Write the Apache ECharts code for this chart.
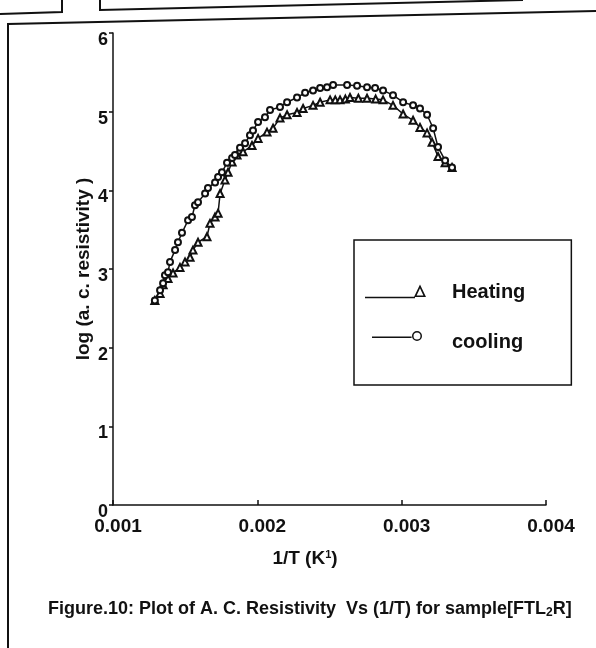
<!DOCTYPE html>
<html>
<head>
<meta charset="utf-8">
<script src="https://cdn.jsdelivr.net/npm/echarts@6/dist/echarts.min.js"></script>
<style>
  html, body { margin: 0; padding: 0; background: #fff; }
  #chart { width: 596px; height: 648px; }
</style>
</head>
<body>
<div id="chart"></div>
<script>
// values
const xTicks = [0.001, 0.002, 0.003, 0.004];
const yTicks = [0, 1, 2, 3, 4, 5, 6];

const heatX = [0.00129, 0.001326, 0.001347, 0.001381, 0.001416, 0.001464, 0.001499, 0.001534, 0.001554, 0.001589,
  0.001651, 0.001672, 0.001707, 0.001728, 0.001742, 0.001776, 0.001797, 0.001825, 0.001859, 0.001901,
  0.001963, 0.002005, 0.002067, 0.002109, 0.002157, 0.002206, 0.002275, 0.002317, 0.002386, 0.002435,
  0.002504, 0.00254, 0.002573, 0.00261, 0.002642, 0.0027, 0.00276, 0.00282, 0.002871, 0.00294,
  0.00301, 0.003079, 0.003127, 0.003176, 0.003211, 0.003252, 0.003301, 0.003349];
const heatY = [2.60, 2.69, 2.80, 2.88, 2.95, 3.02, 3.09, 3.15, 3.24, 3.34,
  3.41, 3.58, 3.66, 3.71, 3.96, 4.13, 4.23, 4.36, 4.45, 4.49,
  4.57, 4.66, 4.74, 4.79, 4.92, 4.96, 4.99, 5.04, 5.08, 5.12,
  5.15, 5.15, 5.15, 5.16, 5.18, 5.17, 5.17, 5.16, 5.15, 5.08,
  4.97, 4.89, 4.80, 4.73, 4.61, 4.43, 4.35, 4.29];

const coolX = [0.00129, 0.001326, 0.001347, 0.00136, 0.001381, 0.001395, 0.00143, 0.00145, 0.001478, 0.00152,
  0.001547, 0.001568, 0.001589, 0.001638, 0.001658, 0.001707, 0.001728, 0.001755, 0.00179, 0.001825,
  0.001845, 0.00188, 0.001915, 0.001949, 0.00197, 0.002005, 0.002053, 0.002088, 0.002157, 0.002206,
  0.002275, 0.002331, 0.002386, 0.002435, 0.002483, 0.002525, 0.002622, 0.002691, 0.00276, 0.002816,
  0.002871, 0.00294, 0.00301, 0.003079, 0.003127, 0.003176, 0.003218, 0.003252, 0.003301, 0.003349];
const coolY = [2.60, 2.73, 2.82, 2.92, 2.96, 3.09, 3.24, 3.34, 3.46, 3.62,
  3.66, 3.81, 3.85, 3.96, 4.03, 4.10, 4.17, 4.23, 4.35, 4.41,
  4.45, 4.54, 4.60, 4.70, 4.76, 4.87, 4.93, 5.02, 5.06, 5.12,
  5.18, 5.24, 5.27, 5.30, 5.31, 5.34, 5.34, 5.33, 5.31, 5.30,
  5.27, 5.21, 5.12, 5.08, 5.04, 4.96, 4.79, 4.55, 4.38, 4.29];

const ink = '#111';
const font = '"Liberation Sans", Arial, sans-serif';

const chart = echarts.init(document.getElementById('chart'), null, { renderer: 'canvas' });

// legend icons (62 x 26 box): line with a hollow marker at its right end.
// the tiny corner segments only pin the box so both icons scale the same way
const corners = ' M0,0 L0.01,0 Z M61.99,26 L62,26 Z';
const heatIcon = 'path://M0,17.8 L50,17.8 L50,19.3 L0,19.3 Z'
  + ' M49,18 L55,5.5 L61,18 Z M51.6,16.6 L58.4,16.6 L55,9.2 Z' + corners;
const coolIcon = 'path://M7,7.4 L46.6,7.4 L46.6,8.9 L7,8.9 Z'
  + ' M57,7 A5,5 0 1,1 47,7 A5,5 0 1,1 57,7 Z M55.5,7 A3.5,3.5 0 1,0 48.5,7 A3.5,3.5 0 1,0 55.5,7 Z' + corners;

const option = {
  animation: false,
  backgroundColor: '#fff',
  grid: { left: 113, right: 50, top: 33, bottom: 143 },
  xAxis: {
    type: 'value',
    min: xTicks[0],
    max: xTicks[xTicks.length - 1],
    interval: 0.001,
    name: '1/T (K{sup|1})',
    nameLocation: 'middle',
    nameGap: 44,
    nameTextStyle: {
      color: ink, fontFamily: font, fontWeight: 'bold', fontSize: 19, padding: [0, 49, 0, 0],
      rich: { sup: { fontSize: 11, fontWeight: 'bold', fontFamily: font, color: ink, verticalAlign: 'top', padding: [0, 0, 9, 0] } }
    },
    axisLine: { show: true, lineStyle: { color: ink, width: 1.5 } },
    axisTick: { show: true, inside: true, length: 5, lineStyle: { color: ink, width: 1.5 } },
    axisLabel: {
      color: ink, fontFamily: font, fontWeight: 'bold', fontSize: 19, margin: 12, padding: [0, 0, 0, 10],
      formatter: v => v.toFixed(3)
    },
    splitLine: { show: false }
  },
  yAxis: {
    type: 'value',
    min: yTicks[0],
    max: yTicks[yTicks.length - 1],
    interval: 1,
    name: 'log (a. c. resistivity )',
    nameLocation: 'middle',
    nameGap: 20,
    nameMoveOverlap: false,
    nameTextStyle: { color: ink, fontFamily: font, fontWeight: 'bold', fontSize: 19 },
    axisLine: { show: true, lineStyle: { color: ink, width: 1.5 } },
    axisTick: { show: true, inside: false, length: 4, lineStyle: { color: ink, width: 1.5 } },
    // digits sit a little below their ticks in the scan
    axisLabel: { color: ink, fontFamily: font, fontWeight: 'bold', fontSize: 18, margin: 5, verticalAlign: 'top', lineHeight: 14 },
    splitLine: { show: false }
  },
  legend: {
    orient: 'vertical',
    left: 354,
    top: 240,
    padding: [39, 46, 30, 11],
    itemGap: 24,
    itemWidth: 62,
    itemHeight: 26,
    borderColor: ink,
    borderWidth: 1.5,
    textStyle: { color: ink, fontFamily: font, fontWeight: 'bold', fontSize: 20, padding: [0, 0, 0, 20] },
    data: [
      { name: 'Heating', icon: heatIcon },
      { name: 'cooling', icon: coolIcon }
    ]
  },
  series: [
    {
      name: 'Heating',
      type: 'line',
      data: heatX.map((x, i) => [x, heatY[i]]),
      symbol: 'emptyTriangle',
      symbolSize: 7,
      showAllSymbol: true,
      lineStyle: { color: ink, width: 1.5 },
      itemStyle: { color: ink, borderWidth: 1.3 }
    },
    {
      name: 'cooling',
      type: 'line',
      data: coolX.map((x, i) => [x, coolY[i]]),
      symbol: 'emptyCircle',
      symbolSize: 6,
      showAllSymbol: true,
      lineStyle: { color: ink, width: 1.5 },
      itemStyle: { color: ink, borderWidth: 1.3 }
    }
  ],
  graphic: [
    // frame of the scanned figure and edges of the boxes above it
    { type: 'polyline', shape: { points: [[8, 648], [8, 24], [596, 11]] }, style: { stroke: ink, lineWidth: 2, fill: null } },
    { type: 'polyline', shape: { points: [[0, 14], [62, 12], [62, 0]] }, style: { stroke: ink, lineWidth: 2, fill: null } },
    { type: 'polyline', shape: { points: [[100, 0], [100, 10], [523, 0]] }, style: { stroke: ink, lineWidth: 2, fill: null } },
    {
      type: 'text',
      left: 48,
      top: 600,
      style: {
        text: 'Figure.10: Plot of A. C. Resistivity  Vs (1/T) for sample[FTL{sub|2}R]',
        fill: ink,
        font: 'bold 18px ' + font,
        rich: { sub: { fontSize: 12, fontWeight: 'bold', fontFamily: font, fill: ink, padding: [7, 0, 0, 0] } }
      }
    }
  ]
};

chart.setOption(option);
</script>
</body>
</html>
